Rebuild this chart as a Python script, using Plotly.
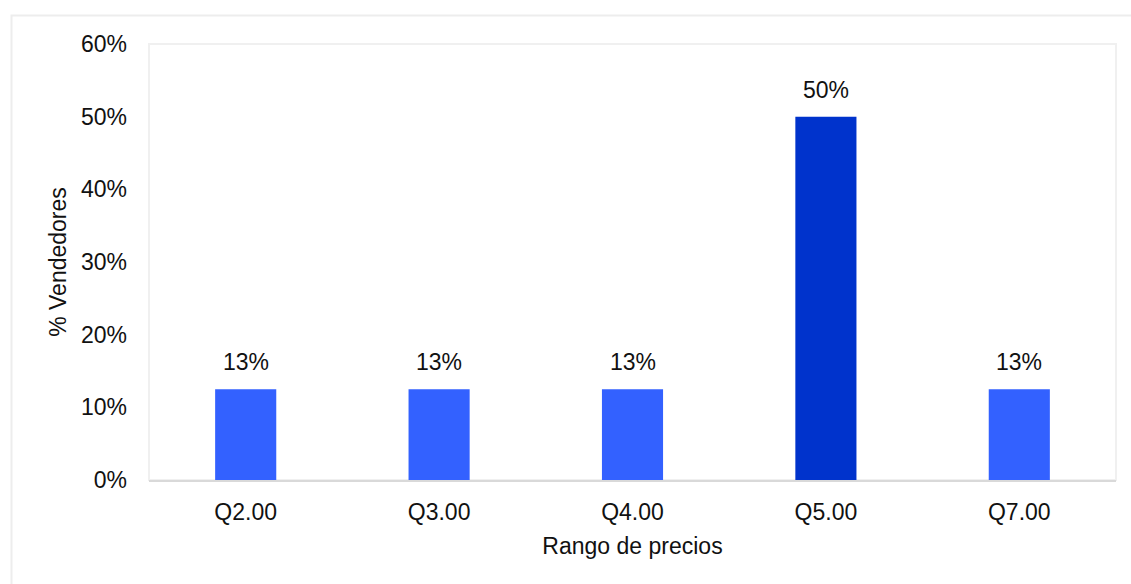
import plotly.graph_objects as go

categories = ["Q2.00", "Q3.00", "Q4.00", "Q5.00", "Q7.00"]
values = [0.125, 0.125, 0.125, 0.50, 0.125]
value_labels = ["13%", "13%", "13%", "50%", "13%"]
bar_colors = ["#3361FF", "#3361FF", "#3361FF", "#0033CC", "#3361FF"]
y_ticks = [0, 0.1, 0.2, 0.3, 0.4, 0.5, 0.6]
y_tick_labels = ["0%", "10%", "20%", "30%", "40%", "50%", "60%"]

W, H = 1131, 584
L, R, T, B = 149, 15, 44, 104
pw, ph = W - L - R, H - T - B

def px_x(p):
    return (p - L) / pw

def px_y(p):
    return (H - B - p) / ph

FONT = "Liberation Sans, Arial, sans-serif"

fig = go.Figure()
fig.add_trace(go.Bar(
    x=categories, y=values,
    marker=dict(color=bar_colors, line=dict(width=0)),
    hoverinfo="skip",
))

for c, v, lab in zip(categories, values, value_labels):
    fig.add_annotation(x=c, y=v, text=lab, showarrow=False,
                       yanchor="bottom", yshift=12,
                       font=dict(size=23, color="#111111", family=FONT))

# outer chart frame (extends beyond the visible window on right/bottom)
fig.add_shape(type="rect", xref="paper", yref="paper",
              x0=px_x(11.5), x1=px_x(W + 20), y0=px_y(H + 20), y1=px_y(15.5),
              line=dict(color="#EDEDED", width=2), layer="below")
# plot-area border
fig.add_shape(type="rect", xref="paper", yref="paper",
              x0=0, x1=1, y0=0, y1=1,
              line=dict(color="#F0F0F0", width=2), layer="below")

fig.update_layout(
    width=W, height=H,
    margin=dict(l=L, r=R, t=T, b=B, pad=0),
    paper_bgcolor="white", plot_bgcolor="white",
    bargap=0.684,
    showlegend=False,
    font=dict(family=FONT, size=23, color="#111111"),
    xaxis=dict(
        showgrid=False, zeroline=False,
        showline=True, linecolor="#D9D9D9", linewidth=2,
        ticks="", ticklabelstandoff=10,
        tickfont=dict(size=23),
        title=dict(text="Rango de precios", font=dict(size=23), standoff=14),
    ),
    yaxis=dict(
        range=[0, 0.6],
        tickvals=y_ticks, ticktext=y_tick_labels,
        showgrid=False, zeroline=False, showline=False,
        ticks="", ticklabelstandoff=21,
        tickfont=dict(size=23),
        title=dict(text="% Vendedores", font=dict(size=23), standoff=7),
    ),
)

fig.write_html("out.html")
